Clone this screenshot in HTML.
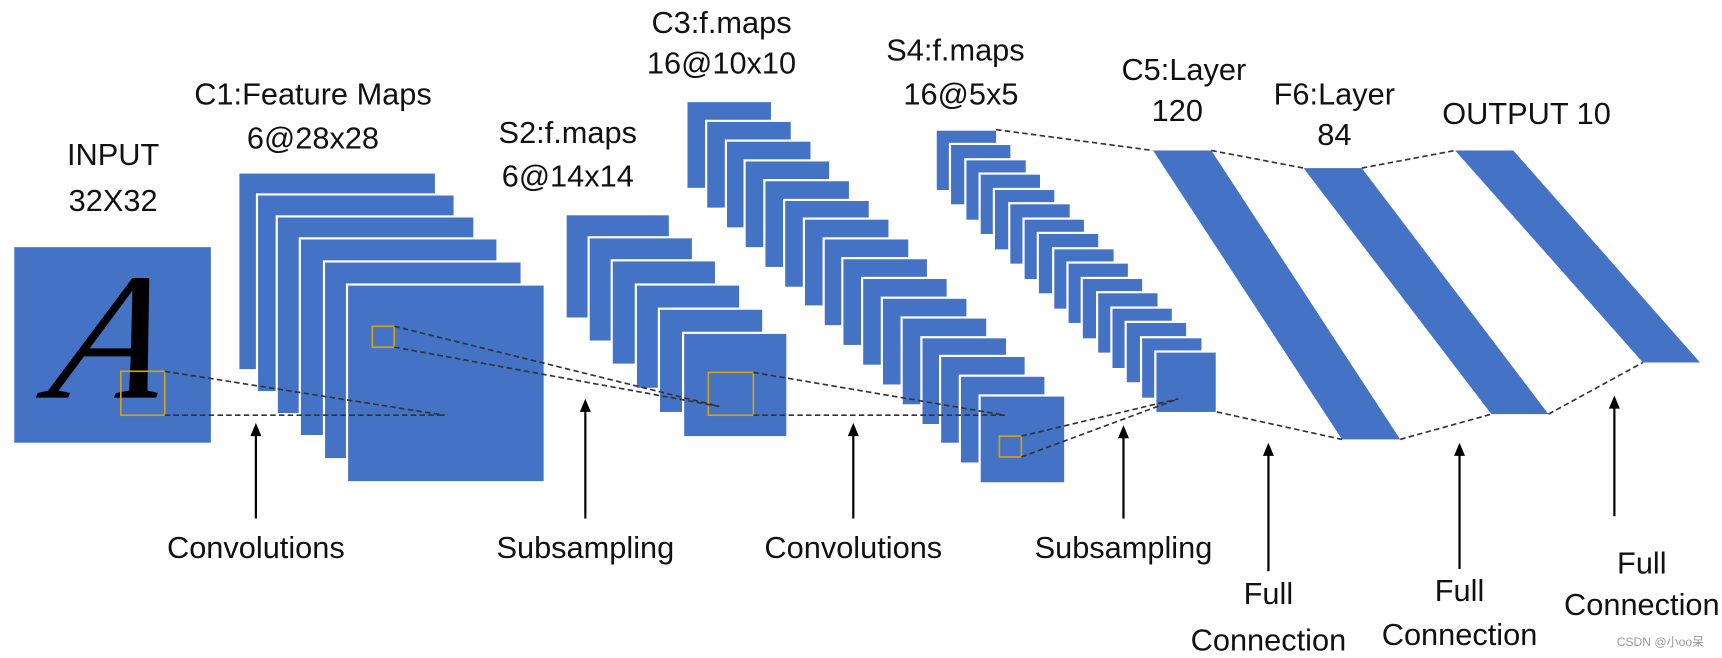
<!DOCTYPE html>
<html><head><meta charset="utf-8"><style>html,body{margin:0;padding:0;background:#fff}svg{display:block}</style></head><body>
<svg width="1722" height="658" viewBox="0 0 1568 599" preserveAspectRatio="none" xmlns="http://www.w3.org/2000/svg">
<g font-family="Liberation Sans, sans-serif" font-size="28" fill="#111" text-anchor="middle">
<text x="103" y="150">INPUT</text><text x="103" y="192">32X32</text>
<text x="285" y="95">C1:Feature Maps</text><text x="285" y="135">6@28x28</text>
<text x="517" y="130">S2:f.maps</text><text x="517" y="170">6@14x14</text>
<text x="657" y="30">C3:f.maps</text><text x="657" y="67">16@10x10</text>
<text x="870" y="55">S4:f.maps</text><text x="875" y="95">16@5x5</text>
<text x="1078" y="73">C5:Layer</text><text x="1072" y="110">120</text>
<text x="1215" y="95">F6:Layer</text><text x="1215" y="132">84</text>
<text x="1390" y="113">OUTPUT 10</text>
<text x="233" y="508">Convolutions</text><text x="533" y="508">Subsampling</text>
<text x="777" y="508">Convolutions</text><text x="1023" y="508">Subsampling</text>
<text x="1155" y="550">Full</text><text x="1155" y="592">Connection</text>
<text x="1329" y="547">Full</text><text x="1329" y="587">Connection</text>
<text x="1495" y="522">Full</text><text x="1495" y="560">Connection</text>
<text x="1512" y="588" font-size="11" fill="#999" font-family="Liberation Sans, Noto Sans CJK SC, sans-serif">CSDN @小oo呆</text>
</g>
<g fill="#4472C4" stroke="#fff" stroke-width="2">
<rect x="13" y="225" width="179" height="178" stroke="none"/>
<rect x="217" y="157" width="180" height="180"/><rect x="234" y="177" width="180" height="180"/><rect x="252" y="197" width="180" height="180"/><rect x="273" y="217" width="180" height="180"/><rect x="295" y="238" width="180" height="180"/><rect x="316" y="259" width="180" height="180"/>
<rect x="515" y="195" width="95" height="95"/><rect x="536" y="216" width="95" height="95"/><rect x="557" y="237" width="95" height="95"/><rect x="579" y="259" width="95" height="95"/><rect x="600" y="281" width="95" height="95"/><rect x="622" y="303" width="95" height="95"/>
</g>
<g fill="#4472C4" stroke="#fff" stroke-width="2">
<rect x="625" y="92" width="78" height="80"/><rect x="643" y="110" width="78" height="80"/><rect x="661" y="128" width="78" height="80"/><rect x="678" y="146" width="78" height="80"/><rect x="696" y="164" width="78" height="80"/><rect x="714" y="182" width="78" height="80"/><rect x="732" y="199" width="78" height="80"/><rect x="750" y="217" width="78" height="80"/><rect x="767" y="235" width="78" height="80"/><rect x="785" y="253" width="78" height="80"/><rect x="803" y="271" width="78" height="80"/><rect x="821" y="289" width="78" height="80"/><rect x="839" y="307" width="78" height="80"/><rect x="856" y="324" width="78" height="80"/><rect x="874" y="342" width="78" height="80"/><rect x="892" y="360" width="78" height="80"/>
<rect x="852" y="118" width="56" height="56"/><rect x="865" y="131" width="56" height="56"/><rect x="879" y="145" width="56" height="56"/><rect x="892" y="158" width="56" height="56"/><rect x="905" y="172" width="56" height="56"/><rect x="919" y="185" width="56" height="56"/><rect x="932" y="199" width="56" height="56"/><rect x="945" y="212" width="56" height="56"/><rect x="959" y="226" width="56" height="56"/><rect x="972" y="239" width="56" height="56"/><rect x="985" y="253" width="56" height="56"/><rect x="999" y="266" width="56" height="56"/><rect x="1012" y="280" width="56" height="56"/><rect x="1025" y="293" width="56" height="56"/><rect x="1039" y="307" width="56" height="56"/><rect x="1052" y="320" width="56" height="56"/>
</g>
<g fill="#4472C4">
<polygon points="1050,137 1103,137 1275,400 1222,400"/>
<polygon points="1187,153 1240,153 1410,377 1358,377"/>
<polygon points="1325,137 1378,137 1548,330 1496,330"/>
</g>
<text x="0" y="0" transform="translate(92,362) skewX(-12)" font-family="Liberation Serif, serif" font-style="italic" font-size="165" fill="#000" text-anchor="middle">A</text>
<g fill="none" stroke="#D4A017" stroke-width="1.5">
<rect x="110" y="338" width="40" height="40"/><rect x="339" y="297" width="20" height="19"/><rect x="645" y="339" width="41" height="39"/><rect x="910" y="397" width="20" height="19"/>
</g>
<g fill="none" stroke="#333" stroke-width="1.5" stroke-dasharray="5,3">
<path d="M150 338L405 378M150 378L405 378M359 297L655 370M359 316L655 370M686 339L915 378M686 378L915 378M930 397L1073 363M930 416L1073 363M907 118L1050 137M1108 375L1222 400M1103 137L1187 153M1240 153L1325 137M1275 400L1358 377M1410 377L1496 330"/>
</g>
<g stroke="#000" stroke-width="2" fill="#000">
<line x1="233" y1="472" x2="233" y2="395"/><polygon points="228,397 238,397 233,385" stroke="none"/>
<line x1="533" y1="472" x2="533" y2="373"/><polygon points="528,375 538,375 533,363" stroke="none"/>
<line x1="777" y1="472" x2="777" y2="395"/><polygon points="772,397 782,397 777,385" stroke="none"/>
<line x1="1023" y1="472" x2="1023" y2="397"/><polygon points="1018,399 1028,399 1023,387" stroke="none"/>
<line x1="1155" y1="520" x2="1155" y2="413"/><polygon points="1150,415 1160,415 1155,403" stroke="none"/>
<line x1="1329" y1="518" x2="1329" y2="413"/><polygon points="1324,415 1334,415 1329,403" stroke="none"/>
<line x1="1470" y1="470" x2="1470" y2="370"/><polygon points="1465,372 1475,372 1470,360" stroke="none"/>
</g>
</svg>
</body></html>
